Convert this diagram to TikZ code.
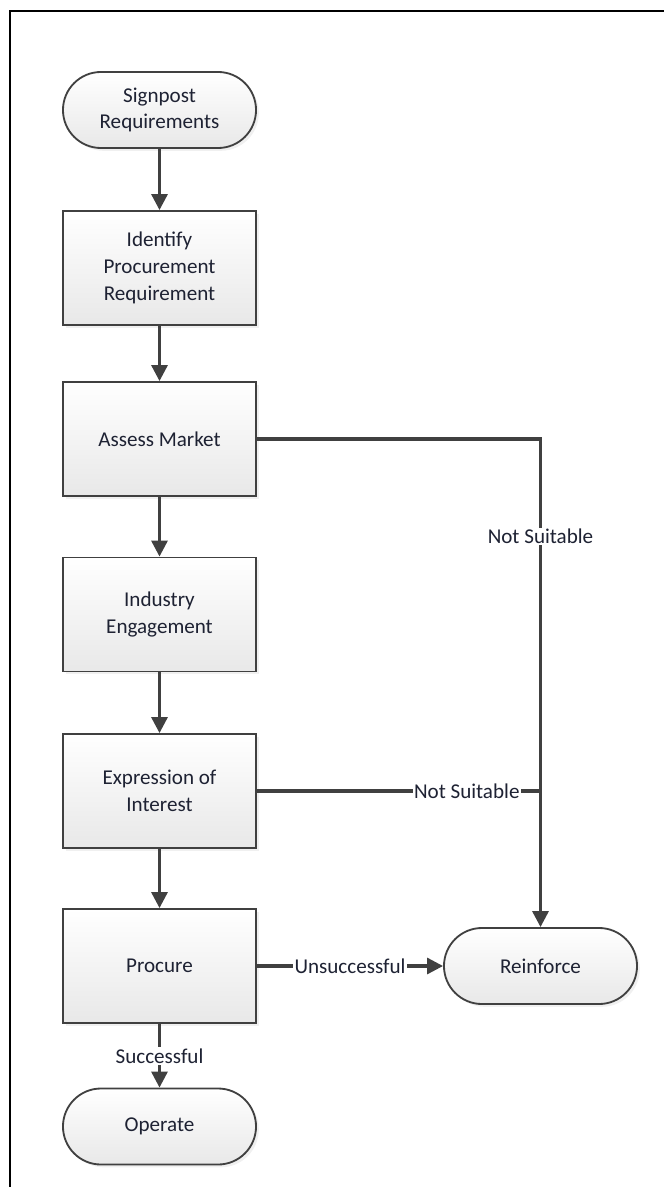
\documentclass[tikz,border=0pt]{standalone}
\usepackage{fontspec}
\setmainfont{Carlito}
\usetikzlibrary{arrows.meta,shadows}
\definecolor{ln}{HTML}{404040}
\definecolor{txt}{HTML}{1E2233}

\begin{document}
\begin{tikzpicture}[x=0.025cm,y=0.025cm,
		font=\fontsize{15}{19}\selectfont,
		box/.style={draw=ln,line width=1.3pt,top color=white,bottom color=black!9,
			drop shadow={shadow xshift=2pt,shadow yshift=-2pt,opacity=0.12},
			minimum width=4.825cm,minimum height=2.85cm,align=center,text=txt},
		term/.style={box,rounded corners=0.95cm,minimum height=1.9cm},
		link/.style={draw=ln,line width=2.2pt},
		flow/.style={link,-{Triangle[length=0.4cm,width=0.4cm]}},
		tag/.style={fill=white,inner sep=1pt,text=txt}]
		\useasboundingbox (0,0) rectangle (664,-1187);
		%边框
		\draw[line width=1.5pt] (10,-1187) -- (10,-11) -- (664,-11);
		%节点
		\draw (159.5,-110) node[term](start){Signpost\\Requirements};
		\draw (159.5,-268) node[box](identify){Identify\\Procurement\\Requirement};
		\draw (159.5,-439) node[box](assess){Assess Market};
		\draw (159.5,-614.5) node[box](industry){Industry\\Engagement};
		\draw (159.5,-791) node[box](expression){Expression of\\Interest};
		\draw (159.5,-966) node[box](procure){Procure};
		\draw (159.5,-1126.5) node[term](operate){Operate};
		\draw (540.5,-966) node[term](reinforce){Reinforce};
		%连线
		\draw[flow] (start) -- (identify);
		\draw[flow] (identify) -- (assess);
		\draw[flow] (assess) -- (industry);
		\draw[flow] (industry) -- (expression);
		\draw[flow] (expression) -- (procure);
		\draw[flow] (procure) -- node[tag]{Successful} (operate);
		\draw[flow] (procure) -- node[tag]{Unsuccessful} (reinforce);
		\draw[flow] (assess.east) -| node[tag,pos=0.6]{Not Suitable} (reinforce.north);
		\draw[link] (expression.east) -- node[tag,pos=0.74]{Not Suitable} (expression.east -| reinforce.north);
	\end{tikzpicture}
\end{document}
